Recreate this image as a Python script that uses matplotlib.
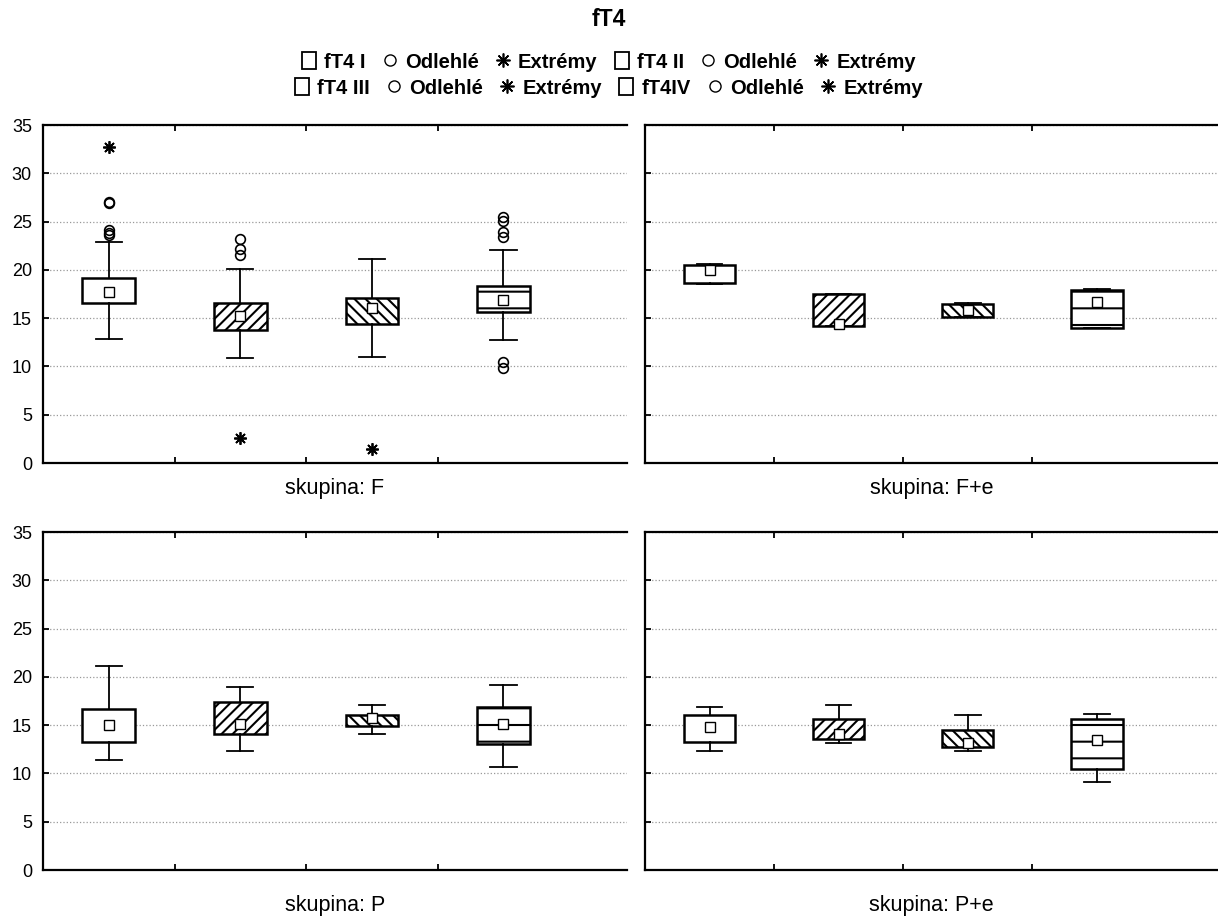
import matplotlib
matplotlib.use('Agg')
import matplotlib.pyplot as plt
from matplotlib.patches import Patch
from matplotlib.lines import Line2D

plt.rcParams['font.family'] = ['Liberation Sans', 'DejaVu Sans']
plt.rcParams['hatch.linewidth'] = 1.5

# data (4 groups x 4 series)
groups = ['F', 'F+e', 'P', 'P+e']
series = ['fT4 I', 'fT4 II', 'fT4 III', 'fT4IV']
med = [[17.7, 15.2, 16.1, 16.9],
       [20.0, 14.4, 15.8, 16.7],
       [15.0, 15.1, 15.7, 15.1],
       [14.8, 14.1, 13.1, 13.5]]
q1 = [[16.6, 13.8, 14.4, 15.6],
      [18.6, 14.2, 15.1, 14.0],
      [13.3, 14.1, 14.9, 13.0],
      [13.3, 13.6, 12.7, 10.5]]
q3 = [[19.2, 16.6, 17.1, 18.3],
      [20.5, 17.5, 16.5, 17.9],
      [16.7, 17.4, 16.1, 16.9],
      [16.1, 15.6, 14.5, 15.6]]
whislo = [[12.8, 10.9, 11.0, 12.7],
          [18.5, 14.2, 15.1, 14.0],
          [11.4, 12.3, 14.1, 10.7],
          [12.3, 13.2, 12.3, 9.1]]
whishi = [[22.9, 20.1, 21.1, 22.1],
          [20.6, 17.5, 16.6, 18.0],
          [21.1, 19.0, 17.1, 19.2],
          [16.9, 17.1, 16.1, 16.2]]
# outliers / extremes only in group F
outliers_F = [[27.0, 26.9, 24.1, 23.8, 23.6],
              [23.2, 22.2, 21.5],
              [],
              [25.5, 25.1, 23.95, 23.4, 10.5, 9.8]]
extremes_F = [[32.7], [2.55], [1.4], []]

hatches = ['', '///', '\\\\\\', '-']
positions = [0.5, 1.5, 2.5, 3.5]

fig = plt.figure(figsize=(12.18, 9.21), dpi=100)
W, H = 1218.0, 921.0
# axes rectangles in pixels: left, top, right, bottom
rects = [(43, 125, 627, 463), (645, 125, 1218, 463),
         (43, 532, 627, 870), (645, 532, 1218, 870)]
label_y = [488, 488, 905, 905]

for g, (l, t, r, b) in enumerate(rects):
    ax = fig.add_axes([l / W, 1 - b / H, (r - l) / W, (b - t) / H])
    stats = []
    for s in range(4):
        fl = outliers_F[s] if g == 0 else []
        stats.append(dict(med=med[g][s], mean=med[g][s], q1=q1[g][s], q3=q3[g][s],
                          whislo=whislo[g][s], whishi=whishi[g][s], fliers=fl))
    bp = ax.bxp(stats, positions=positions, widths=0.4, capwidths=0.2,
                patch_artist=True, showmeans=True,
                boxprops=dict(facecolor='white', edgecolor='black', linewidth=1.8),
                whiskerprops=dict(color='black', linewidth=1.3),
                capprops=dict(color='black', linewidth=1.3),
                medianprops=dict(visible=False),
                meanprops=dict(marker='s', markerfacecolor='white', markeredgecolor='black',
                               markersize=7, markeredgewidth=1.0),
                flierprops=dict(marker='o', markerfacecolor='none', markeredgecolor='black',
                                markersize=7, markeredgewidth=1.2))
    for box, h in zip(bp['boxes'], hatches):
        box.set_hatch(h)
    if g == 0:
        for s in range(4):
            if extremes_F[s]:
                ax.plot([positions[s]] * len(extremes_F[s]), extremes_F[s], linestyle='none',
                        marker=(8, 2, 0), color='black', markersize=9, markeredgewidth=1.3)

    ax.set_xlim(0, 4.44)
    ax.set_ylim(0, 35)
    ax.set_xticks([1, 2, 3])
    ax.set_xticklabels([])
    ax.set_yticks(range(0, 36, 5))
    if g in (1, 3):
        ax.set_yticklabels([])
    ax.tick_params(axis='x', direction='in', top=True, length=4, width=1.3)
    ax.tick_params(axis='y', direction='in', length=4, width=1.3, labelsize=13, pad=8)
    ax.yaxis.grid(True, linestyle=':', color='#999999', linewidth=0.9)
    ax.set_axisbelow(True)
    ax.spines['right'].set_visible(False)
    for sp in ['left', 'top', 'bottom']:
        ax.spines[sp].set_linewidth(1.6)
    fig.text((l + r) / 2 / W, 1 - label_y[g] / H, 'skupina: ' + groups[g],
             ha='center', va='center', fontsize=15.5)

fig.text(0.5, 1 - 20 / H, 'fT4', ha='center', va='center', fontsize=16.5, fontweight='bold')


def legend_row(names, ypix):
    handles, labels = [], []
    for n in names:
        handles.append(Patch(facecolor='white', edgecolor='black', linewidth=1.3))
        labels.append(n)
        handles.append(Line2D([], [], linestyle='none', marker='o', markerfacecolor='none',
                              markeredgecolor='black', markersize=8))
        labels.append('Odlehlé')
        handles.append(Line2D([], [], linestyle='none', marker=(8, 2, 0), color='black',
                              markersize=10, markeredgewidth=1.2))
        labels.append('Extrémy')
    fig.legend(handles, labels, loc='center', bbox_to_anchor=(0.5, 1 - ypix / H), ncol=6,
               frameon=False, prop=dict(weight='bold', size=14.5), handlelength=0.7,
               handleheight=0.9, handletextpad=0.4, columnspacing=0.85, borderpad=0)


legend_row(series[:2], 62)
legend_row(series[2:], 88)

fig.savefig('out.png', dpi=100)
